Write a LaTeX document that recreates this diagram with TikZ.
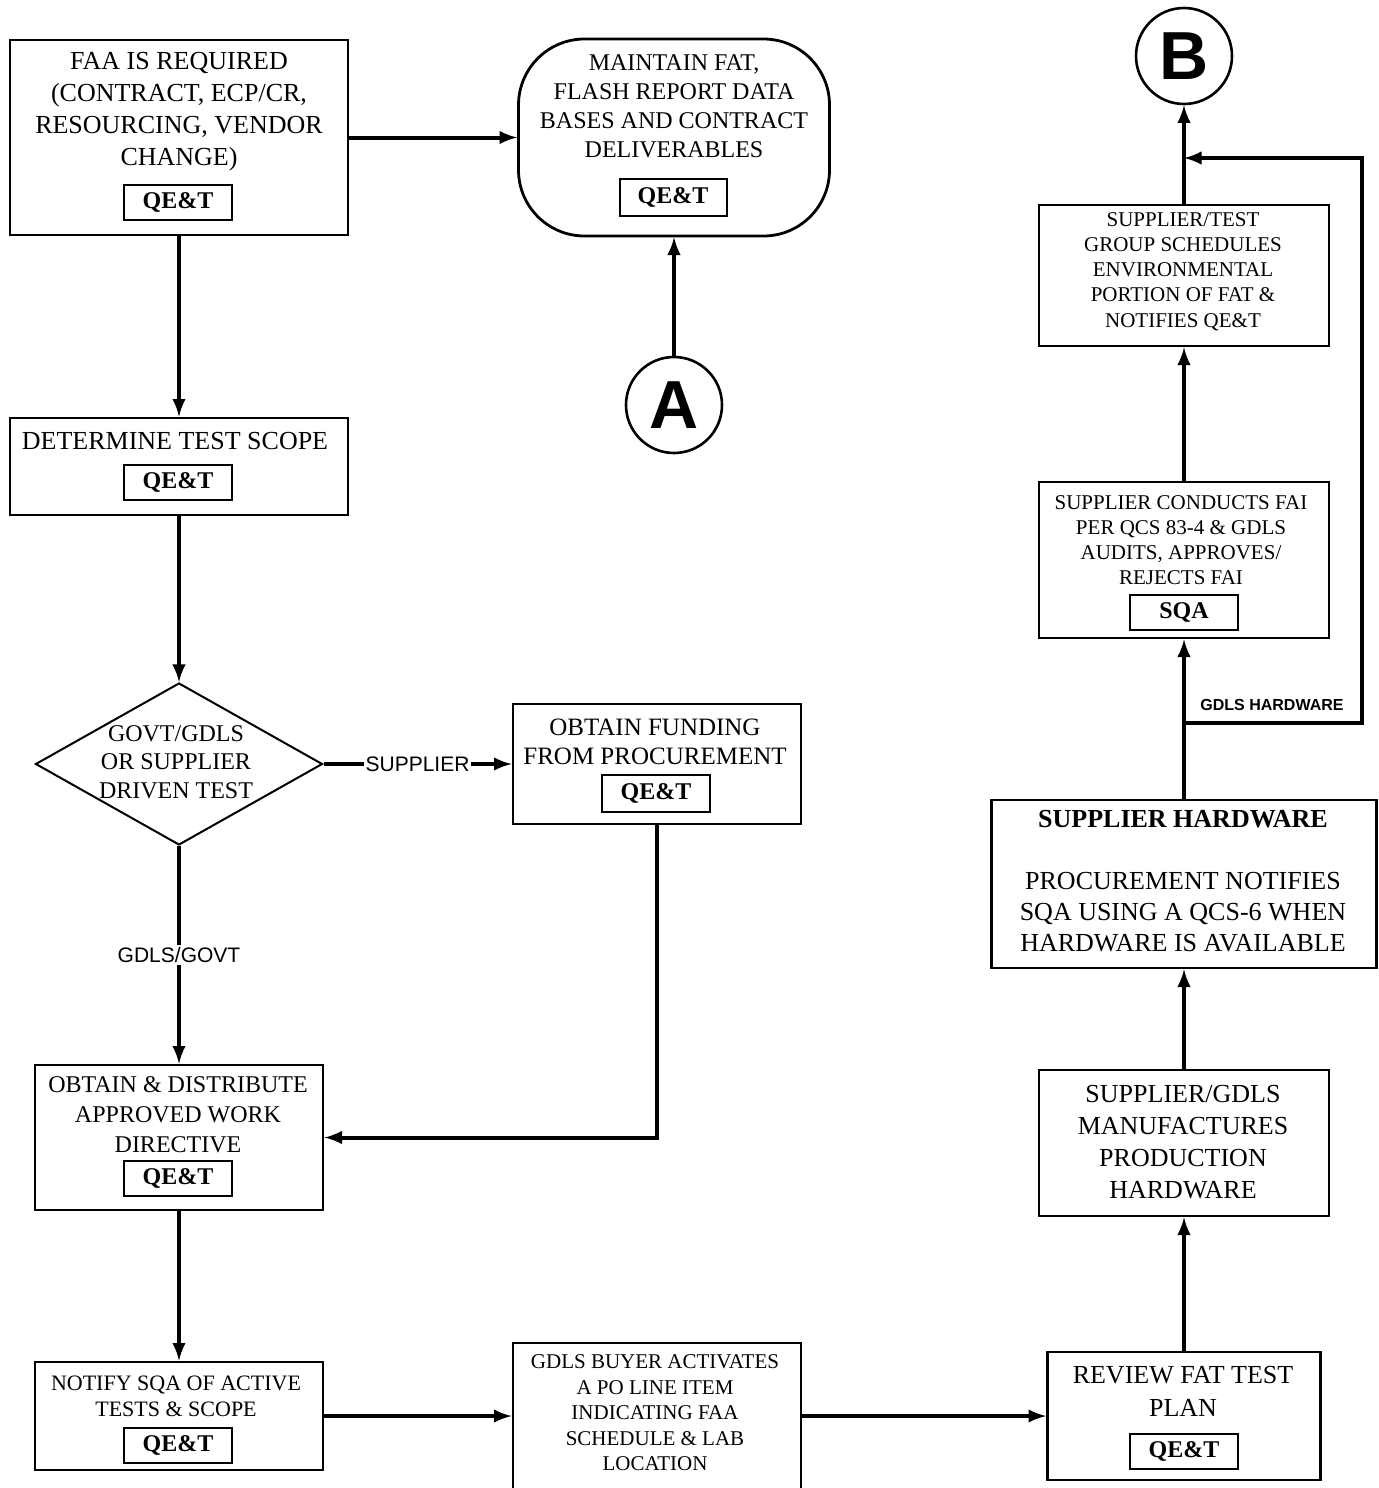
\documentclass[tikz,border=0pt]{standalone}
\usepackage{fontspec}
\setmainfont{Liberation Serif}
\setsansfont{Liberation Sans}
\usetikzlibrary{shapes.geometric, positioning, calc}

\tikzset{
  box/.style={draw, line width=1.4pt, inner sep=0pt},
  tag/.style={draw, line width=1pt, minimum width=54pt, minimum height=17.5pt, inner sep=0pt, font=\bfseries\fontsize{12}{14}\selectfont},
  flow/.style={-latex, line width=2pt},
  txtbig/.style={align=center, inner sep=0pt, font=\fontsize{13}{16}\selectfont},
  txtmid/.style={align=center, inner sep=0pt, font=\fontsize{12}{14.5}\selectfont},
  txtsmall/.style={align=center, inner sep=0pt, font=\fontsize{10.5}{12.6}\selectfont},
  lbl/.style={fill=white, inner sep=1pt, font=\sffamily\fontsize{10.5}{12}\selectfont},
  conn/.style={draw, circle, line width=1.3pt, minimum size=48pt, inner sep=0pt, font=\sffamily\bfseries\fontsize{34}{34}\selectfont}
}

\begin{document}
\begin{tikzpicture}[x=0.5pt, y=-0.5pt]
  \useasboundingbox (0,0) rectangle (1378,1488);

  \node[box, minimum width=169pt, minimum height=97.5pt] (faa) at (179,137.5) {};
  \node[txtbig] (faatxt) at (179,112) {FAA IS REQUIRED\\(CONTRACT, ECP/CR,\\RESOURCING, VENDOR\\CHANGE)};
  \node[tag] (faatag) at (178,202) {QE\&T};

  \node[box, rounded corners=33pt, minimum width=155.5pt, minimum height=98.5pt] (maint) at (674,137.5) {};
  \node[txtmid] (mainttxt) at (674,106) {MAINTAIN FAT,\\FLASH REPORT DATA\\BASES AND CONTRACT\\DELIVERABLES};
  \node[tag, minimum width=53.5pt, minimum height=18.5pt] (mainttag) at (673,197) {QE\&T};

  \node[conn] (A) at (674,405) {A};

  \node[box, minimum width=169pt, minimum height=48.5pt] (det) at (179,466.5) {};
  \node[txtbig] (dettxt) at (175,441) {DETERMINE TEST SCOPE};
  \node[tag] (dettag) at (178,482) {QE\&T};

  \node[draw, diamond, line width=1pt, minimum width=143.5pt, minimum height=81pt, inner sep=0pt] (govt) at (179,764) {};
  \node[align=center, inner sep=0pt, font=\fontsize{12}{14.2}\selectfont] (govttxt) at (176,762) {GOVT/GDLS\\OR SUPPLIER\\DRIVEN TEST};

  \node[box, minimum width=144pt, minimum height=60pt] (fund) at (657,764) {};
  \node[align=center, inner sep=0pt, font=\fontsize{12.5}{14.5}\selectfont] (fundtxt) at (655,741.5) {OBTAIN FUNDING\\FROM PROCUREMENT};
  \node[tag, minimum height=18.5pt] (fundtag) at (656,793) {QE\&T};

  \node[box, minimum width=144pt, minimum height=72.5pt] (obtain) at (179,1137.5) {};
  \node[align=center, inner sep=0pt, font=\fontsize{12}{15}\selectfont] (obtaintxt) at (178,1115) {OBTAIN \& DISTRIBUTE\\APPROVED WORK\\DIRECTIVE};
  \node[tag] (obtaintag) at (178,1178) {QE\&T};

  \node[box, minimum width=144pt, minimum height=54pt] (notify) at (179,1416) {};
  \node[align=center, inner sep=0pt, font=\fontsize{11}{13}\selectfont] (notifytxt) at (176,1396) {NOTIFY SQA OF ACTIVE\\TESTS \& SCOPE};
  \node[tag] (notifytag) at (178,1445) {QE\&T};

  \node[box, minimum width=144pt, minimum height=75.5pt] (buyer) at (657,1418.5) {};
  \node[align=center, inner sep=0pt, font=\fontsize{10.5}{12.75}\selectfont] (buyertxt) at (655,1413) {GDLS BUYER ACTIVATES\\A PO LINE ITEM\\INDICATING FAA\\SCHEDULE \& LAB\\LOCATION};

  \node[box, minimum width=136.5pt, minimum height=64pt] (review) at (1184,1416) {};
  \node[align=center, inner sep=0pt, font=\fontsize{13}{16.5}\selectfont] (reviewtxt) at (1183,1391.5) {REVIEW FAT TEST\\PLAN};
  \node[tag] (reviewtag) at (1184,1451) {QE\&T};

  \node[box, minimum width=145pt, minimum height=73pt] (manuf) at (1184,1143) {};
  \node[txtbig] (manuftxt) at (1183,1142) {SUPPLIER/GDLS\\MANUFACTURES\\PRODUCTION\\HARDWARE};

  \node[box, minimum width=192.5pt, minimum height=84pt] (hw) at (1184,884) {};
  \node[align=center, inner sep=0pt, font=\fontsize{13}{15.5}\selectfont] (hwtxt) at (1183,881) {\textbf{SUPPLIER HARDWARE}\\[15.5pt]PROCUREMENT NOTIFIES\\SQA USING A QCS-6 WHEN\\HARDWARE IS AVAILABLE};

  \node[box, minimum width=145pt, minimum height=78pt] (fai) at (1184,560) {};
  \node[txtsmall] (faitxt) at (1181,540) {SUPPLIER CONDUCTS FAI\\PER QCS 83-4 \& GDLS\\AUDITS, APPROVES/\\REJECTS FAI};
  \node[tag] (faitag) at (1184,612) {SQA};

  \node[box, minimum width=145pt, minimum height=70.5pt] (sched) at (1184,275.5) {};
  \node[txtsmall] (schedtxt) at (1183,271.5) {SUPPLIER/TEST\\GROUP SCHEDULES\\ENVIRONMENTAL\\PORTION OF FAT \&\\NOTIFIES QE\&T};

  \node[conn] (B) at (1184,56) {B};

  \draw[flow] (faa.east) -- (maint.west);
  \draw[flow] (A.north) -- (maint.south);
  \draw[flow] (faa.south) -- (det.north);
  \draw[flow] (det.south) -- (govt.north);
  \draw[flow] (govt.east) -- node[lbl] (lsup) {SUPPLIER} (fund.west);
  \draw[flow] (govt.south) -- node[lbl] (lgov) {GDLS/GOVT} (obtain.north);
  \draw[flow] (fund.south) |- (obtain.east);
  \draw[flow] (obtain.south) -- (notify.north);
  \draw[flow] (notify.east) -- (notify.east -| buyer.west);
  \draw[flow] (notify.east -| buyer.east) -- (review.west);
  \draw[flow] (review.north) -- (manuf.south);
  \draw[flow] (manuf.north) -- (hw.south);
  \draw[flow] (hw.north) -- (fai.south);
  \draw[flow] (fai.north) -- (sched.south);
  \draw[flow] (sched.north) -- (B.south);

  \coordinate (gsplit) at (1184,723);
  \coordinate (gcorner) at (1362,723);
  \coordinate (gjoin) at (1184,158);
  \draw[flow] (gsplit) -- (gcorner) |- (gjoin);
  \node[font=\sffamily\bfseries\fontsize{8}{9}\selectfont, inner sep=0pt] (ghw) at (1272,705) {GDLS HARDWARE};
\end{tikzpicture}
\end{document}
